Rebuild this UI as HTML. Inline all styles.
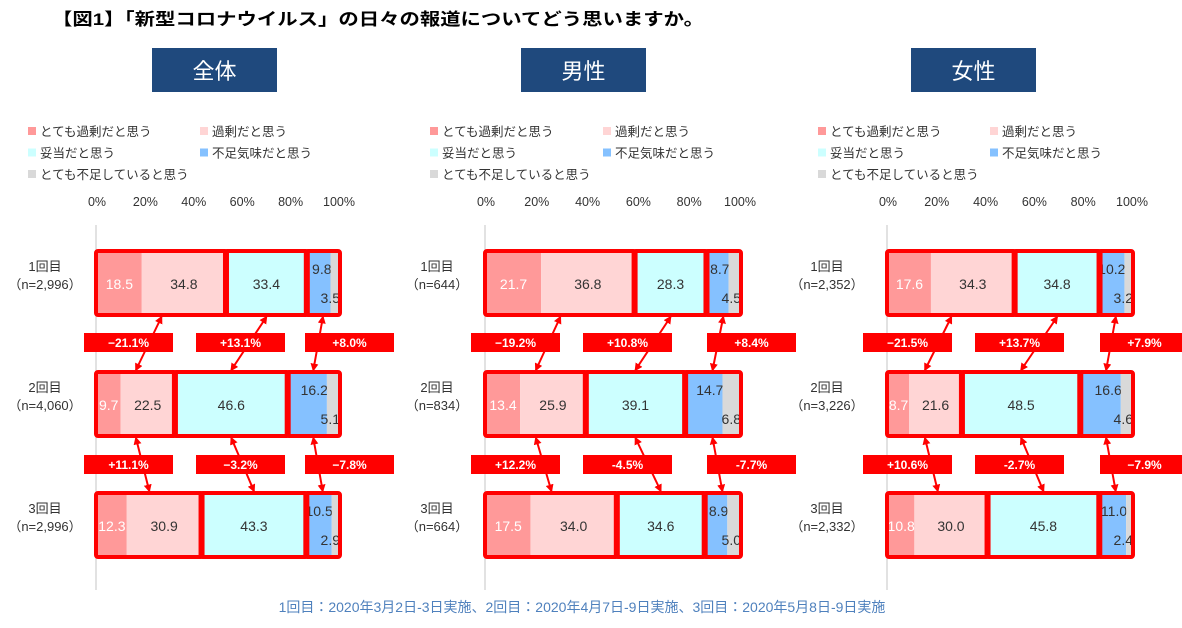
<!DOCTYPE html>
<html><head><meta charset="utf-8">
<style>
body{margin:0;background:#fff;width:1182px;height:623px;overflow:hidden;font-family:"Liberation Sans","Noto Sans CJK JP",sans-serif;}
svg text{font-family:"Liberation Sans","Noto Sans CJK JP",sans-serif;}
</style></head>
<body>
<svg id="chart" width="1182" height="623" viewBox="0 0 1182 623">
<text x="52" y="25" font-size="17" font-weight="bold" fill="#000" textLength="652" lengthAdjust="spacingAndGlyphs">【図1】「新型コロナウイルス」の日々の報道についてどう思いますか。</text>
<text x="582" y="612" font-size="14" fill="#4f81bd" text-anchor="middle">1回目：2020年3月2日-3日実施、2回目：2020年4月7日-9日実施、3回目：2020年5月8日-9日実施</text>
</svg>
<script>
const panelNames=["全体","男性","女性"];
const rowLabels=["1回目","2回目","3回目"];
const sampleSizes=[["(n=2,996)","(n=4,060)","(n=2,996)"],["(n=644)","(n=834)","(n=664)"],["(n=2,352)","(n=3,226)","(n=2,332)"]];
const categories=["とても過剰だと思う","過剰だと思う","妥当だと思う","不足気味だと思う","とても不足していると思う"];
const valuesAll=[[18.5,34.8,33.4,9.8,3.5],[9.7,22.5,46.6,16.2,5.1],[12.3,30.9,43.3,10.5,2.9]];
const valuesMale=[[21.7,36.8,28.3,8.7,4.5],[13.4,25.9,39.1,14.7,6.8],[17.5,34.0,34.6,8.9,5.0]];
const valuesFemale=[[17.6,34.3,34.8,10.2,3.2],[8.7,21.6,48.5,16.6,4.6],[10.8,30.0,45.8,11.0,2.4]];
const changesAll=[["−21.1%","+13.1%","+8.0%"],["+11.1%","−3.2%","−7.8%"]];
const changesMale=[["−19.2%","+10.8%","+8.4%"],["+12.2%","-4.5%","-7.7%"]];
const changesFemale=[["−21.5%","+13.7%","+7.9%"],["+10.6%","-2.7%","−7.9%"]];
const tickLabels=["0%","20%","40%","60%","80%","100%"];
const tickValues=[0,20,40,60,80,100];

const colors=["#ff9999","#ffd5d5","#ccffff","#85c1ff","#d9d9d9"];
const NS="http://www.w3.org/2000/svg";
const svg=document.getElementById("chart");
function mk(tag,attrs,parent){const e=document.createElementNS(NS,tag);for(const k in attrs)e.setAttribute(k,attrs[k]);(parent||svg).appendChild(e);return e;}
function txt(s,attrs,parent){const e=mk("text",attrs,parent);e.textContent=s;return e;}

const panels=[
 {x0:97,w:242,values:valuesAll,changes:changesAll,title:[152,125],legend:[28,200],label:45,boxes:[-13,99,208]},
 {x0:486,w:254,values:valuesMale,changes:changesMale,title:[521,125],legend:[430,603],label:437,boxes:[-15,97,221]},
 {x0:888,w:244,values:valuesFemale,changes:changesFemale,title:[911,125],legend:[818,990],label:827,boxes:[-25,87,212]}
];
const rowY=[253,374,495], barH=60, boxY=[333,455], boxW=89, boxH=19;

mk("defs",{}).innerHTML='<marker id="ah" viewBox="0 0 10 10" refX="8" refY="5" markerWidth="4" markerHeight="4" orient="auto-start-reverse"><path d="M0,0L10,5L0,10z" fill="#ff0000"/></marker>';

panels.forEach((p,pi)=>{
  const g=mk("g",{});
  
  
  const xs=v=>p.x0+v/100*p.w;
  // title box
  const tb=mk("rect",{x:p.title[0],y:48,width:p.title[1],height:44,fill:"#1f497d"},g);
  
  
  const tt=txt(panelNames[pi],{x:p.title[0]+p.title[1]/2,y:79,"font-size":22,fill:"#fff","text-anchor":"middle"},g);
  
  
  // legend
  categories.forEach((c,ci)=>{
    const lx=ci===4?p.legend[0]:p.legend[ci%2], ly=131+Math.floor(ci/2)*21.5;
    const lg=mk("g",{},g);
    
    
    mk("rect",{x:lx,y:ly-4,width:8,height:8,fill:colors[ci]},lg);
    txt(c,{x:lx+12,y:ly+5,"font-size":12.5,fill:"#333"},lg);
  });
  // ticks
  tickValues.forEach((t,ti)=>{
    const tl=txt(tickLabels[ti],{x:xs(t),y:206,"font-size":12.5,fill:"#333","text-anchor":"middle"},g);
    
    
  });
  mk("line",{x1:p.x0-1,y1:225,x2:p.x0-1,y2:590,stroke:"#d9d9d9","stroke-width":1.5},g);
  // bars
  p.values.forEach((row,ri)=>{
    const y=rowY[ri];
    const l1=txt(rowLabels[ri],{x:p.label,y:y+18,"font-size":13,fill:"#333","text-anchor":"middle"},g);
    
    
    const l2=txt("（"+sampleSizes[pi][ri].slice(1,-1)+"）",{x:p.label,y:y+36,"font-size":13,fill:"#333","text-anchor":"middle"},g);
    
    
    let cum=0;
    row.forEach((v,ci)=>{
      const b=mk("rect",{x:xs(cum),y:y,width:xs(cum+v)-xs(cum),height:barH,fill:colors[ci]},g);
      
      
      let tx=xs(cum+v/2),ty=y+36,anchor="middle";
      if(ci===3){tx=xs(cum+v)+1;ty=y+21;anchor="end";}
      if(ci===4){tx=xs(100)+1;ty=y+50;anchor="end";}
      const vl=txt(v.toFixed(1),{x:tx,y:ty,"font-size":14,fill:ci===0?"#fff":"#333","text-anchor":anchor},g);
      
      
      cum+=v;
    });
    // group boxes
    const grp=[[0,row[0]+row[1]],[row[0]+row[1],row[0]+row[1]+row[2]],[row[0]+row[1]+row[2],100]];
    grp.forEach(([a,b])=>{
      const r=mk("rect",{x:xs(a)-1,y:y-2,width:xs(b)-xs(a)+2,height:barH+4,fill:"none",stroke:"#ff0000","stroke-width":4,rx:2},g);
      
      
    });
  });
  // change annotations
  p.changes.forEach((rowc,ri)=>{
    const r1=p.values[ri], r2=p.values[ri+1];
    const cen=r=>[(r[0]+r[1])/2,r[0]+r[1]+r[2]/2,(r[0]+r[1]+r[2]+100)/2];
    const c1=cen(r1),c2=cen(r2);
    rowc.forEach((s,k)=>{
      const ax1=xs(c1[k]), ax2=xs(c2[k]);
      const ar=mk("line",{x1:ax1,y1:rowY[ri]+barH+4,x2:ax2,y2:rowY[ri+1]-4,stroke:"#ff0000","stroke-width":2,"marker-start":"url(#ah)","marker-end":"url(#ah)"},g);
      
      
      const bx=p.x0+p.boxes[k];
      const br=mk("rect",{x:bx,y:boxY[ri],width:boxW,height:boxH,fill:"#ff0000"},g);
      
      
      const bt=txt(s,{x:bx+boxW/2,y:boxY[ri]+14,"font-size":12,"font-weight":"bold",fill:"#fff","text-anchor":"middle"},g);
      
      
    });
  });
});
</script>
</body></html>
